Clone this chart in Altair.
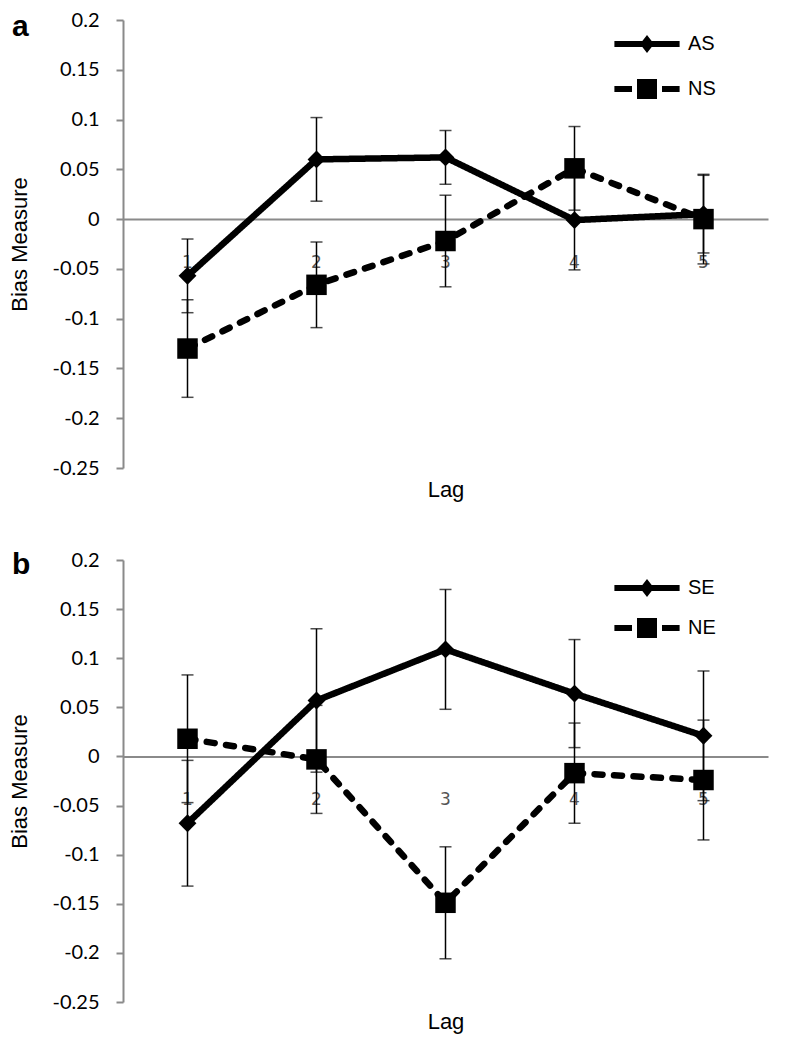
import altair as alt
import pandas as pd

lags = [1, 2, 3, 4, 5]

# Panel a
a_names = ["AS", "NS"]
as_mean = [-0.057, 0.060, 0.062, -0.001, 0.005]
as_err = [0.037, 0.042, 0.027, 0.050, 0.039]
ns_mean = [-0.130, -0.066, -0.022, 0.051, 0.000]
ns_err = [0.049, 0.043, 0.046, 0.042, 0.045]

# Panel b
b_names = ["SE", "NE"]
se_mean = [-0.068, 0.057, 0.109, 0.064, 0.021]
se_err = [0.064, 0.073, 0.061, 0.055, 0.066]
ne_mean = [0.018, -0.003, -0.149, -0.017, -0.024]
ne_err = [0.065, 0.055, 0.057, 0.051, 0.061]

y_ticks = [0.2, 0.15, 0.1, 0.05, 0, -0.05, -0.1, -0.15, -0.2, -0.25]

LEG_SOLID = "M-1.63,-0.15H1.63V0.15H-1.63Z M0,-0.45L0.35,0L0,0.45L-0.35,0Z"
LEG_DASH = ("M-1.63,-0.15H-0.75V0.15H-1.63Z M-0.5,-0.5H0.5V0.5H-0.5Z "
            "M0.75,-0.15H1.63V0.15H0.75Z")


def frame(names, means, errs):
    rows = []
    for name, m, e in zip(names, means, errs):
        for lag, v, d in zip(lags, m, e):
            rows.append({"lag": lag, "series": name, "mean": v,
                         "lo": v - d, "hi": v + d})
    return pd.DataFrame(rows)


def panel(df, names, letter, height, letter_dy, legend_y, row_pad, title_y):
    y0 = height * 0.2 / 0.45
    yscale = alt.Scale(domain=[-0.25, 0.2], nice=False, zero=False)
    xscale = alt.Scale(paddingInner=0, paddingOuter=0)
    xaxis = alt.Axis(
        orient="bottom", offset=-(height - y0), domainColor="#8a8a8a",
        domainWidth=2, ticks=False, tickSize=0, labelAngle=0,
        labelFont="DejaVu Sans", labelFontSize=17, labelColor="#555555",
        labelBaseline="middle", labelPadding=43,
        titleFont="Liberation Sans", titleFontSize=22, titleFontWeight="normal",
        titleColor="black", titleY=title_y, titleBaseline="alphabetic",
    )
    yaxis = alt.Axis(
        values=y_ticks, labelExpr="'' + datum.value", grid=False,
        domainColor="#8a8a8a", domainWidth=2, tickColor="#8a8a8a",
        tickWidth=2, tickSize=7, labelFont="Lato", labelFontSize=20,
        labelColor="black", labelPadding=17,
        titleFont="Liberation Sans", titleFontSize=22, titleFontWeight="normal",
        titleColor="black", titleX=-103.5, titleBaseline="middle",
    )
    X = alt.X("lag:O", scale=xscale, axis=xaxis, title="Lag")
    Xp = alt.X("lag:O", scale=xscale, title="Lag")
    base = alt.Chart(df)

    line = base.mark_line(color="black", strokeWidth=6.5, strokeCap="round",
                          strokeJoin="round").encode(
        x=X,
        y=alt.Y("mean:Q", scale=yscale, axis=yaxis, title="Bias Measure"),
        strokeDash=alt.StrokeDash("series:N", scale=alt.Scale(domain=names, range=[[1, 0], [8, 11.5]]), legend=None),
    )
    pts = base.mark_point(filled=True, color="black", opacity=1, strokeWidth=0).encode(
        x=Xp,
        y=alt.Y("mean:Q", scale=yscale, title="Bias Measure"),
        shape=alt.Shape("series:N", scale=alt.Scale(domain=names, range=["diamond", "square"]), legend=None),
        size=alt.Size("series:N", scale=alt.Scale(domain=names, range=[320, 420]), legend=None),
    )
    leg = base.mark_point(filled=True, color="black", opacity=0, strokeWidth=0).encode(
        x=Xp,
        y=alt.Y("mean:Q", scale=yscale, title="Bias Measure"),
        shape=alt.Shape(
            "series:N",
            scale=alt.Scale(domain=names, range=[LEG_SOLID, LEG_DASH]),
            legend=alt.Legend(
                title=None, orient="none", legendX=504, legendY=legend_y,
                symbolSize=1600, labelOffset=21, rowPadding=row_pad,
                labelFont="Liberation Sans", labelFontSize=20, labelColor="black",
                symbolOpacity=1, symbolFillColor="black", symbolStrokeWidth=0,
                padding=0,
            ),
        ),
    )
    rules = base.mark_rule(color="black", strokeWidth=1.5).encode(
        x=Xp, y=alt.Y("lo:Q", scale=yscale, title="Bias Measure"), y2="hi:Q"
    )
    cap_lo = base.mark_tick(color="black", thickness=1.5, size=12).encode(
        x=Xp, y=alt.Y("lo:Q", scale=yscale, title="Bias Measure")
    )
    cap_hi = base.mark_tick(color="black", thickness=1.5, size=12).encode(
        x=Xp, y=alt.Y("hi:Q", scale=yscale, title="Bias Measure")
    )
    return alt.layer(line, pts, leg, rules, cap_lo, cap_hi).resolve_scale(
        shape="independent"
    ).properties(
        width=645, height=height,
        title=alt.TitleParams(
            letter, anchor="start", frame="group", font="Liberation Sans",
            fontSize=30, fontWeight="bold", color="black", dx=-111,
            dy=letter_dy, baseline="alphabetic", offset=0,
        ),
    )


pa = panel(frame(a_names, [as_mean, ns_mean], [as_err, ns_err]), a_names, "a",
           448, 56, 4, 15, 277)
pb = panel(frame(b_names, [se_mean, ne_mean], [se_err, ne_err]), b_names, "b",
           442, 54, 8, 10, 272.5)

chart = alt.vconcat(pa, pb, spacing=92, bounds="flush").resolve_scale(
    shape="independent", strokeDash="independent", size="independent"
).resolve_legend(shape="independent").properties(
    padding={"left": 0, "top": 2, "right": 5, "bottom": 5},
    background="white",
).configure_view(stroke=None)

chart.save("out.html", embed_options={"renderer": "svg", "actions": False})
